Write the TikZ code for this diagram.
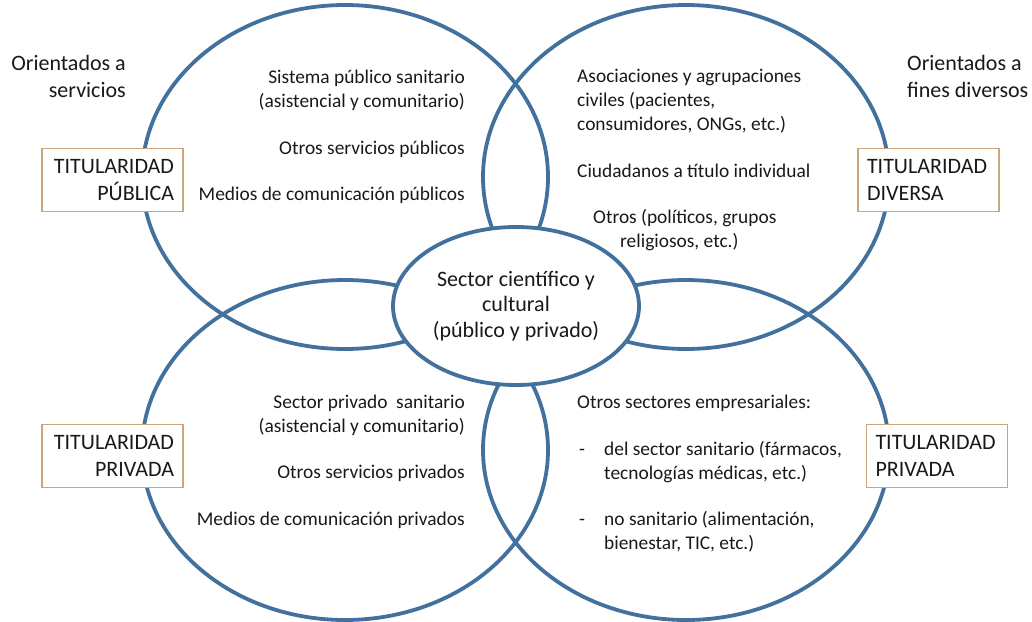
\documentclass[tikz,border=0pt]{standalone}
\usepackage{fontspec}
\setmainfont{Carlito}
\usetikzlibrary{shapes.geometric}
\definecolor{ringblue}{RGB}{65,113,156}
\definecolor{tagedge}{RGB}{205,165,125}
\definecolor{ink}{RGB}{25,25,25}
\begin{document}
\begin{tikzpicture}[x=1pt,y=-1pt,
  ring/.style={draw=ringblue, line width=3.8pt, ellipse, inner sep=0pt, outer sep=0pt,
               minimum width=406pt, minimum height=#1},
  core/.style={draw=ringblue, line width=3.8pt, ellipse, fill=white, inner sep=0pt,
               minimum width=246pt, minimum height=158pt, align=center, text=ink,
               font=\fontsize{22}{25.5}\selectfont},
  tag/.style={draw=tagedge, fill=white, line width=1.3pt, minimum width=141pt,
              minimum height=63pt, inner sep=0pt, text width=123pt, align=#1,
              text=ink, font=\fontsize{22}{26.5}\selectfont},
  body/.style={inner sep=0pt, text=ink, align=#1, font=\fontsize{19.4}{23.6}\selectfont},
  big/.style={inner sep=0pt, text=ink, align=#1, font=\fontsize{22}{27}\selectfont}]
\useasboundingbox (0,0) rectangle (1032,621);

% the four overlapping areas
\node[ring=344pt] (pub) at (345,177) {};
\node[ring=344pt] (div) at (686,177) {};
\node[ring=340pt] (priv) at (345,450) {};
\node[ring=340pt] (corp) at (686,450) {};

% shared centre
\node[core] (sci) at (516,306) {Sector científico y\\cultural\\(público y privado)};

% ownership tags
\node[tag=right] (tagpub) at (112.5,180) {TITULARIDAD\\PÚBLICA};
\node[tag=left] (tagdiv) at (928.5,180) {TITULARIDAD\\DIVERSA};
\node[tag=right] (tagpriv) at (112.5,456) {TITULARIDAD\\PRIVADA};
\node[tag=left] (tagcorp) at (937,456) {TITULARIDAD\\PRIVADA};

% orientation captions
\node[big=right, anchor=base east] (orserv) at (126,97) {Orientados a\\servicios};
\node[big=left, anchor=base west] (orfines) at (907,97) {Orientados a\\fines diversos};

% public services
\node[body=right, anchor=base east] (pubA) at (465,107) {Sistema público sanitario\\(asistencial y comunitario)};
\node[body=right, anchor=base east] (pubB) at (465,154) {Otros servicios públicos};
\node[body=right, anchor=base east] (pubC) at (465,200) {Medios de comunicación públicos};

% diverse aims
\node[body=left, anchor=base west] (divA) at (577,130) {Asociaciones y agrupaciones\\civiles (pacientes,\\consumidores, ONGs, etc.)};
\node[body=left, anchor=base west] (divB) at (577,177) {Ciudadanos a título individual};
\node[body=left, anchor=base west] (divC) at (593,247) {Otros (políticos, grupos\\\hspace*{27pt}religiosos, etc.)};

% private services
\node[body=right, anchor=base east] (privA) at (465,432) {Sector privado\ \ sanitario\\(asistencial y comunitario)};
\node[body=right, anchor=base east] (privB) at (465,478) {Otros servicios privados};
\node[body=right, anchor=base east] (privC) at (465,525) {Medios de comunicación privados};

% other business sectors
\node[body=left, anchor=base west] (corpA) at (577,408) {Otros sectores empresariales:};
\node[body=left, anchor=base west] (dashA) at (579,455) {-};
\node[body=left, anchor=base west] (corpB) at (604,479) {del sector sanitario (fármacos,\\tecnologías médicas, etc.)};
\node[body=left, anchor=base west] (dashB) at (579,525) {-};
\node[body=left, anchor=base west] (corpC) at (604,549) {no sanitario (alimentación,\\bienestar, TIC, etc.)};
\end{tikzpicture}
\end{document}
